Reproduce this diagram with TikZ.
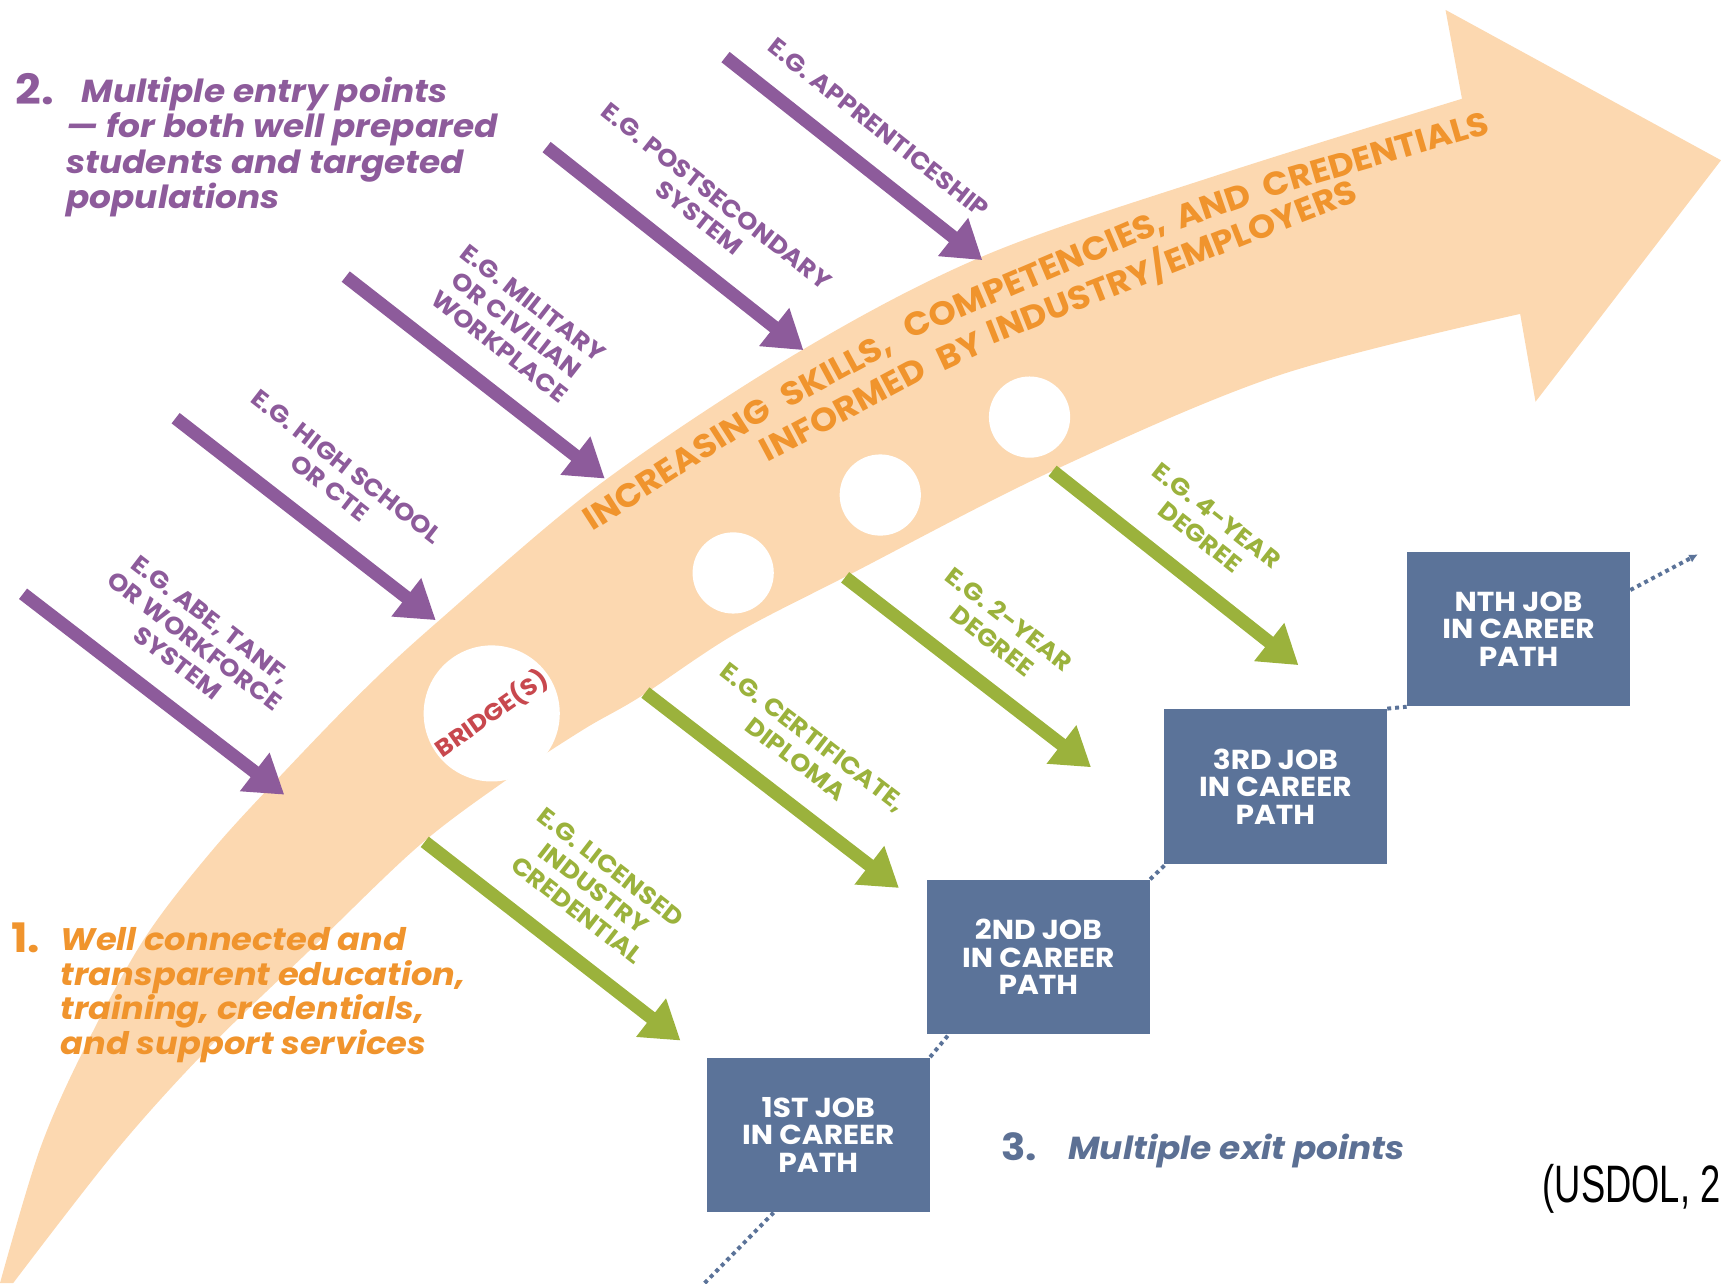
\documentclass[tikz,border=0pt]{standalone}
\usepackage{fontspec}
\setmainfont{Poppins}
\newfontfamily\widesans{Poppins}[FakeStretch=1.08]
\newfontfamily\bandsans{Poppins}[FakeStretch=1.06]
\newfontfamily\citefont{Liberation Sans}
\usetikzlibrary{arrows.meta,calc}
\definecolor{entrypurple}{RGB}{141,91,155}
\definecolor{exitgreen}{RGB}{155,178,60}
\definecolor{bandpeach}{RGB}{252,216,176}
\definecolor{bandorange}{RGB}{240,148,45}
\definecolor{jobblue}{RGB}{91,115,153}
\definecolor{exitblue}{RGB}{92,112,148}
\definecolor{bridgered}{RGB}{200,72,78}
\begin{document}
\begin{tikzpicture}[x=0.5pt,y=-0.5pt]
	\tikzstyle{entry}  = [line width=6pt, draw=entrypurple, -{Triangle[width=21pt,length=17pt]}]
	\tikzstyle{exit}   = [entry, draw=exitgreen]
	\tikzstyle{elabel} = [midway, sloped, above=11pt, align=center, inner sep=0pt, font=\widesans\fontsize{11}{12.5}\selectfont\bfseries]
	\tikzstyle{job}    = [rectangle, fill=jobblue, text=white, minimum width=101.5pt, minimum height=70.5pt, align=center, font=\widesans\fontsize{12.5}{12.5}\selectfont\bfseries]
	\tikzstyle{hole}   = [circle, fill=white, inner sep=0pt]
	\tikzstyle{pathdots} = [draw=jobblue, line width=1.8pt, dash pattern=on 1.8pt off 1.8pt]
	\tikzstyle{bandword} = [sloped, anchor=base, inner sep=0pt, text=bandorange, font=\bandsans\fontsize{15}{15}\selectfont\bfseries]

	\useasboundingbox (0,0) rectangle (1568,1169);

	\fill[bandpeach] plot[smooth, tension=0.55] coordinates {(0,1169) (36,1048) (76,957) (131,856) (194,774) (262,700) (330,630) (397,568) (548,440) (729,320) (899,232) (1114,158) (1332,90)}
		-- (1317,9) -- (1568,146) -- (1399,366) -- (1385,286)
		-- plot[smooth, tension=0.55] coordinates {(1385,286) (1165,342) (959,429) (775,523) (669,578) (583,635) (531,665) (458,713) (380,772) (282,866) (188,957) (106,1048) (12,1169)} -- cycle;

	\foreach \name/\x/\y in {hole1/668/522, hole2/802/451, hole3/938/380}
		\node[hole, minimum size=37pt] (\name) at (\x, \y) {};
	\node[hole, minimum size=62pt, rotate=35, text=bridgered, font=\widesans\fontsize{10.7}{11}\selectfont\bfseries] (bridge) at (448,650) {BRIDGE(S)};

	\coordinate (skills-s) at (540,487);
	\coordinate (skills-e) at (1364,121);
	\path (skills-s) .. controls (810,298) and (1045,206) .. (skills-e)
		node[bandword, pos=0.103] (w-incr) {INCREASING}
		node[bandword, pos=0.287] (w-skills) {SKILLS,}
		node[bandword, pos=0.516] (w-comp) {COMPETENCIES,}
		node[bandword, pos=0.715] (w-and) {AND}
		node[bandword, pos=0.884] (w-cred) {CREDENTIALS};
	\coordinate (inform-s) at (699,424);
	\coordinate (inform-e) at (1246,181);
	\path (inform-s) .. controls (870,321) and (1059,253) .. (inform-e)
		node[bandword, pos=0.142] (w-inf) {INFORMED}
		node[bandword, pos=0.340] (w-by) {BY}
		node[bandword, pos=0.689] (w-ind) {INDUSTRY/EMPLOYERS};

	\foreach \name/\sx/\sy/\ex/\ey/\lbl in {abe/21/541/259/724/{E.G. ABE, TANF,\\OR WORKFORCE\\SYSTEM}, hs/160/381/397/565/{E.G. HIGH SCHOOL\\OR CTE}, mil/315/252/551/436/{E.G. MILITARY\\OR CIVILIAN\\WORKPLACE}, post/498/134/732/319/{E.G. POSTSECONDARY\\SYSTEM}, app/661/52/895/237/{E.G. APPRENTICESHIP}} {
		\coordinate (\name-s) at (\sx, \sy);
		\coordinate (\name-e) at (\ex, \ey);
		\draw[entry] (\name-s) -- node[elabel, text=entrypurple] (\name-l) {\lbl} (\name-e);
	}

	\foreach \name/\sx/\sy/\ex/\ey/\lbl in {lic/387/767/620/948/{E.G. LICENSED\\INDUSTRY\\CREDENTIAL}, cert/588/631/819/809/{E.G. CERTIFICATE,\\DIPLOMA}, two/770/526/994/699/{E.G. 2-YEAR\\DEGREE}, four/959/429/1183/606/{E.G. 4-YEAR\\DEGREE}} {
		\coordinate (\name-s) at (\sx, \sy);
		\coordinate (\name-e) at (\ex, \ey);
		\draw[exit] (\name-s) -- node[elabel, text=exitgreen] (\name-l) {\lbl} (\name-e);
	}

	\foreach \name/\x/\y/\nth in {job1/745.5/1034/1ST, job2/946/872/2ND, job3/1162/716.5/3RD, job4/1383.5/573/NTH}
		\node[job] (\name) at (\x, \y) {\nth\ JOB\\IN CAREER\\PATH};

	\coordinate (tail) at (642,1169);
	\coordinate (head) at (1547,505);
	\draw[pathdots] (tail) -- ($(job1.south west)!0.3!(job1.south east)$);
	\foreach \from/\to/\dx in {job1/job2/20, job2/job3/2, job3/job4/0}
		\draw[pathdots] (\from.north east) -- ($(\to.south west)+(\dx,0)$);
	\draw[pathdots, -{Latex[length=4pt,width=4pt]}] ($(job4.north east)!0.25!(job4.south east)$) -- (head);

	\node[anchor=base west, inner sep=0pt, text=entrypurple, font=\widesans\fontsize{19}{19}\selectfont\bfseries] (two-num) at (14,95) {2.};
	\node[anchor=north west, align=left, inner sep=0pt, text=entrypurple, font=\widesans\fontsize{14.5}{16}\selectfont\bfseries\itshape] (entry-txt) at (60,70) {\hspace*{7pt}Multiple entry points\\— for both well prepared\\students and targeted\\populations};

	\node[anchor=base west, inner sep=0pt, text=bandorange, font=\widesans\fontsize{18.5}{18.5}\selectfont\bfseries] (one-num) at (10,868) {1.};
	\node[anchor=north west, align=left, inner sep=0pt, text=bandorange, font=\widesans\fontsize{14.2}{15.7}\selectfont\bfseries\itshape] (well-txt) at (55,845) {Well connected and\\transparent education,\\training, credentials,\\and support services};

	\node[anchor=base west, inner sep=0pt, text=exitblue, font=\widesans\fontsize{17}{17}\selectfont\bfseries] (three-num) at (912,1057) {3.};
	\node[anchor=base west, inner sep=0pt, text=exitblue, font=\widesans\fontsize{14.5}{14.5}\selectfont\bfseries\itshape] (exit-txt) at (973,1056) {Multiple exit points};

	\node[anchor=base east, inner sep=0pt, font=\citefont\fontsize{24}{24}\selectfont] (cite) at (1568,1096) {\scalebox{0.69}[1]{(USDOL, 2}};
\end{tikzpicture}
\end{document}
